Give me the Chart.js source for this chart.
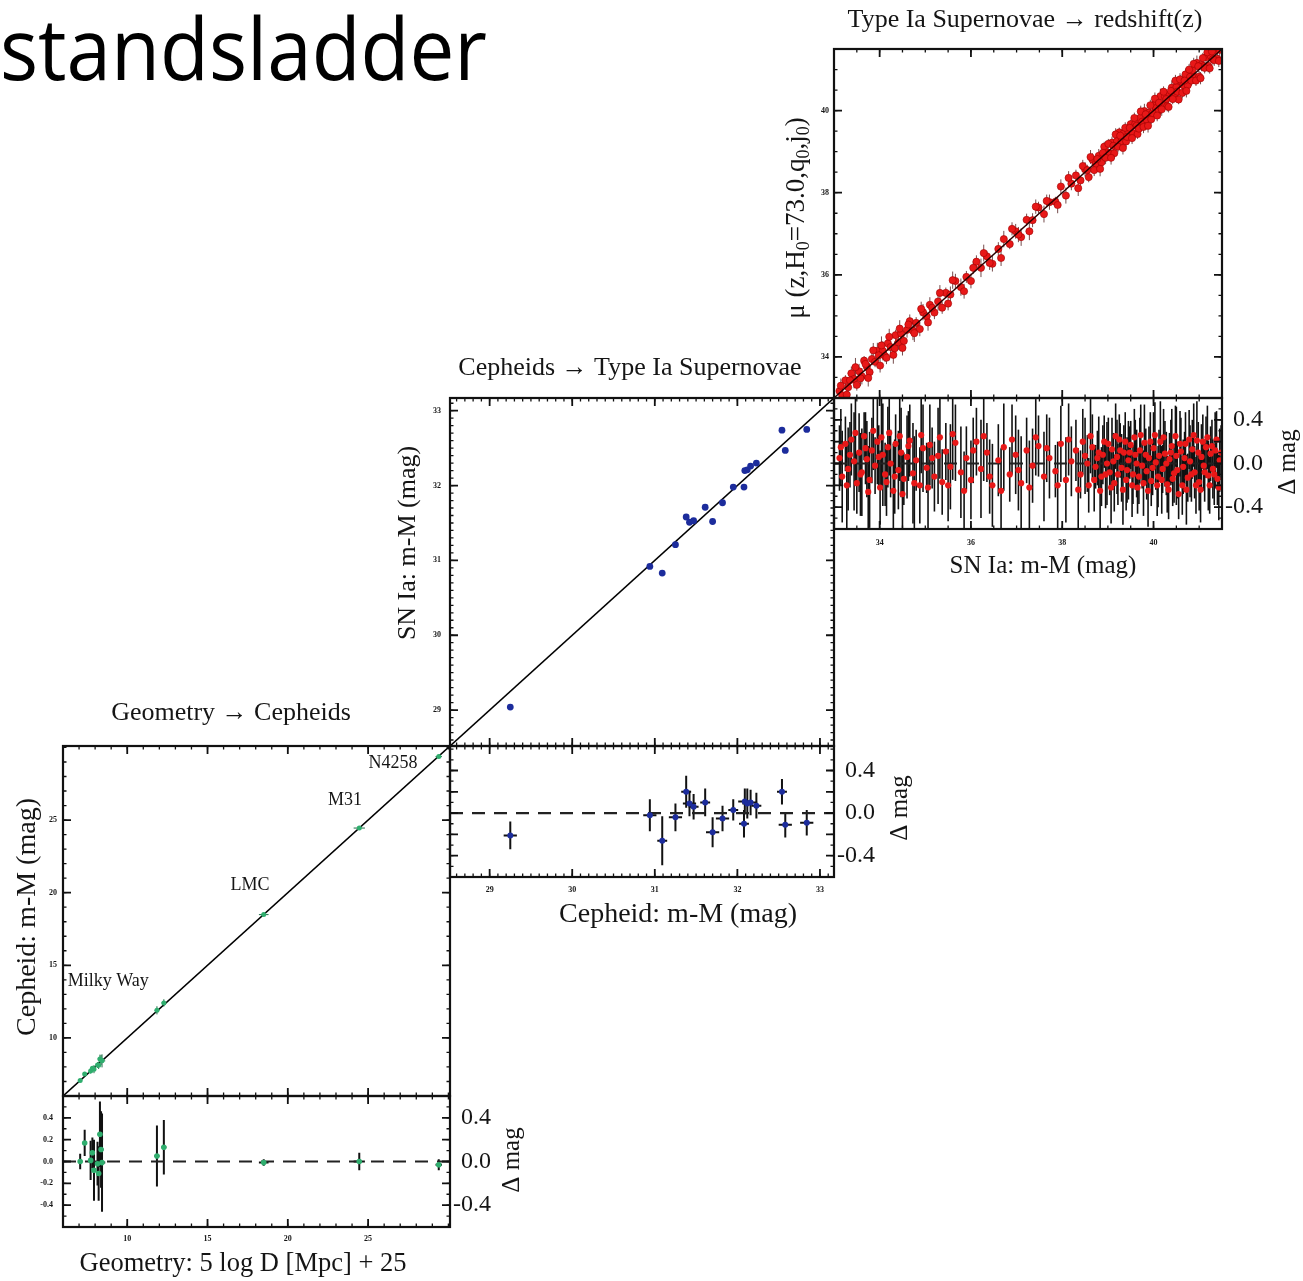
<!DOCTYPE html>
<html>
<head>
<meta charset="utf-8">
<script src="https://cdn.jsdelivr.net/npm/chart.js@4.4.1/dist/chart.umd.min.js"></script>
<style>
  body { margin: 0; background: #fff; width: 1303px; height: 1281px; overflow: hidden; position: relative; }
  canvas { position: absolute; left: 0; top: 0; }
</style>
</head>
<body>
<canvas id="c1m" width="1303" height="1281"></canvas>
<canvas id="c1r" width="1303" height="1281"></canvas>
<canvas id="c2m" width="1303" height="1281"></canvas>
<canvas id="c2r" width="1303" height="1281"></canvas>
<canvas id="c3m" width="1303" height="1281"></canvas>
<canvas id="c3r" width="1303" height="1281"></canvas>
<script>
// ---- Geometry -> Cepheids (green)
const geoDist      = [7.07, 7.35, 7.72, 7.83, 7.93, 8.15, 8.22, 8.30, 8.37, 8.43, 11.85, 12.28, 18.50, 24.45, 29.40];
const geoDistErr   = [0.05, 0.08, 0.10, 0.08, 0.12, 0.10, 0.12, 0.14, 0.15, 0.20, 0.15, 0.15, 0.30, 0.35, 0.20];
const cephMod      = [7.07, 7.52, 7.73, 7.91, 7.85, 8.13, 8.11, 8.55, 8.48, 8.42, 11.90, 12.41, 18.49, 24.45, 29.37];
const cephResid    = [0.00, 0.17, 0.01, 0.08, -0.08, -0.02, -0.11, 0.25, 0.11, -0.01, 0.05, 0.13, -0.01, 0.00, -0.03];
const cephResidErr = [0.07, 0.12, 0.18, 0.14, 0.28, 0.20, 0.25, 0.30, 0.35, 0.45, 0.28, 0.25, 0.03, 0.08, 0.05];
const geoTicks = [10, 15, 20, 25];
const geoTickLabels = ['10', '15', '20', '25'];
const geoLabels = ['Milky Way', 'LMC', 'M31', 'N4258'];

// ---- Cepheids -> Type Ia Supernovae (blue)
const hostCeph      = [29.25, 30.94, 31.09, 31.25, 31.38, 31.42, 31.47, 31.61, 31.70, 31.82, 31.95, 32.08, 32.09, 32.12, 32.16, 32.23, 32.54, 32.58, 32.84];
const hostCephErr   = [0.08, 0.08, 0.06, 0.08, 0.06, 0.08, 0.06, 0.06, 0.08, 0.08, 0.06, 0.06, 0.08, 0.06, 0.08, 0.06, 0.06, 0.08, 0.08];
const hostSN        = [29.04, 30.92, 30.83, 31.21, 31.58, 31.51, 31.53, 31.71, 31.52, 31.77, 31.98, 31.98, 32.20, 32.21, 32.26, 32.30, 32.74, 32.47, 32.75];
const hostResid     = [-0.21, -0.02, -0.26, -0.04, 0.20, 0.09, 0.06, 0.10, -0.18, -0.05, 0.03, -0.10, 0.11, 0.09, 0.10, 0.07, 0.20, -0.11, -0.09];
const hostResidErr  = [0.13, 0.15, 0.23, 0.13, 0.15, 0.12, 0.12, 0.13, 0.14, 0.12, 0.10, 0.13, 0.12, 0.14, 0.12, 0.12, 0.12, 0.12, 0.12];
const hostTicks = [29, 30, 31, 32, 33];
const hostTickLabels = ['29', '30', '31', '32', '33'];

// ---- Type Ia Supernovae -> redshift (red)
const snMod = [
  33.12, 33.18, 33.25, 33.31, 33.38, 33.44, 33.50, 33.55, 33.61, 33.66, 33.72, 33.78, 33.83, 33.90, 33.95,
  34.01, 34.07, 34.12, 34.18, 34.24, 34.30, 34.35, 34.41, 34.47, 34.53, 34.60, 34.66, 34.73, 34.80, 34.88,
  34.95, 35.03, 35.10, 35.20, 35.28, 35.37, 35.45, 35.55, 35.66, 35.78, 35.90, 36.00, 36.12, 36.22, 36.35,
  36.47, 36.60, 36.72, 36.85, 36.98, 37.10, 37.22, 37.35, 37.48, 37.60, 37.72, 37.85, 37.97, 38.08, 38.20,
  38.30, 38.40, 38.50, 38.58, 38.66, 38.73, 38.80, 38.86, 38.92, 38.98, 39.04, 39.09, 39.14, 39.20, 39.25,
  39.30, 39.35, 39.40, 39.45, 39.50, 39.55, 39.60, 39.65, 39.70, 39.75, 39.80, 39.85, 39.90, 39.95, 40.00,
  40.05, 40.10, 40.15, 40.20, 40.25, 40.30, 40.35, 40.40, 40.45, 40.50, 40.55, 40.60, 40.65, 40.70, 40.75,
  40.80, 40.85, 40.90, 40.95, 41.00, 41.05, 41.10, 41.15, 41.20, 41.25, 41.30, 41.35, 41.40, 41.45,
  33.15, 33.28, 33.35, 33.47, 33.58, 33.69, 33.75, 33.86, 33.98, 34.04,
  34.15, 34.21, 34.33, 34.44, 34.50, 34.63, 34.76, 34.91, 35.06, 35.15,
  35.32, 35.50, 35.60, 35.85, 36.05, 36.28, 36.41, 36.66, 36.90, 37.04,
  37.28, 37.42, 37.66, 37.90, 38.14, 38.35, 38.45, 38.55, 38.62, 38.70,
  38.77, 38.83, 38.89, 38.95, 39.01, 39.07, 39.12, 39.17, 39.22, 39.27,
  39.33, 39.38, 39.42, 39.48, 39.53, 39.58, 39.63, 39.68, 39.72, 39.78,
  39.83, 39.88, 39.93, 39.98, 40.03, 40.08, 40.12, 40.18, 40.22, 40.28,
  40.33, 40.38, 40.42, 40.48, 40.52, 40.58, 40.63, 40.68, 40.72, 40.78,
  40.83, 40.88, 40.93, 40.98, 41.03, 41.08, 41.12, 41.18, 41.23, 41.28,
  41.33, 41.38, 41.43, 41.48
];
const hubbleMu = [
  33.17, 33.06, 33.43, 33.26, 33.60, 33.46, 33.32, 33.65, 33.53, 33.91, 33.76, 33.63, 33.95, 33.88, 34.15,
  33.79, 34.15, 34.02, 34.33, 34.24, 34.05, 34.53, 34.35, 34.57, 34.39, 34.66, 34.87, 34.64, 34.83, 34.68,
  35.09, 34.99, 35.27, 35.08, 35.35, 35.20, 35.56, 35.52, 35.85, 35.70, 35.95, 35.85, 36.32, 36.17, 36.45,
  36.27, 36.63, 36.87, 36.75, 37.06, 36.92, 37.34, 37.33, 37.64, 37.48, 37.77, 37.78, 38.15, 37.93, 38.22,
  38.42, 38.30, 38.57, 38.38, 38.81, 38.70, 38.90, 38.74, 39.12, 38.98, 38.96, 39.22, 38.96, 39.26, 39.47,
  39.26, 39.45, 39.25, 39.48, 39.67, 39.45, 39.68, 39.43, 39.82, 39.73, 39.99, 39.78, 39.95, 39.79, 40.14,
  40.06, 39.98, 40.35, 40.15, 40.34, 40.11, 40.39, 40.56, 40.36, 40.57, 40.27, 40.71, 40.62, 40.88, 40.62,
  40.82, 40.98, 40.82, 41.16, 40.83, 41.11, 41.08, 41.30, 41.09, 41.34, 41.25, 41.47, 41.26, 41.48,
  33.30, 33.08, 33.43, 33.75, 33.48, 33.83, 33.49, 34.16, 34.04, 34.28,
  33.98, 34.49, 34.21, 34.69, 34.22, 34.79, 34.58, 35.17, 34.84, 35.20,
  35.56, 35.30, 35.87, 35.60, 36.17, 36.53, 36.29, 36.41, 37.12, 36.98,
  37.06, 37.66, 37.80, 37.70, 38.36, 38.11, 38.65, 38.55, 38.87, 38.55,
  38.82, 38.58, 38.97, 38.85, 39.19, 38.85, 39.14, 39.42, 39.12, 39.39,
  39.09, 39.58, 39.36, 39.58, 39.33, 39.82, 39.63, 39.56, 39.98, 39.60,
  39.91, 39.63, 40.13, 39.94, 40.29, 39.88, 40.19, 40.03, 40.46, 40.28,
  40.09, 40.48, 40.28, 40.73, 40.46, 40.76, 40.43, 40.73, 40.48, 41.00,
  40.73, 41.14, 40.73, 41.08, 40.79, 41.28, 41.04, 41.42, 41.03, 41.44,
  41.23, 41.60, 41.21, 41.58
];
const hubbleResid = [
  0.05, -0.12, 0.18, -0.05, 0.22, 0.02, -0.18, 0.10, -0.08, 0.25, 0.04, -0.15, 0.12, -0.02, 0.20,
  -0.22, 0.08, -0.10, 0.15, 0.00, -0.25, 0.18, -0.06, 0.10, -0.14, 0.06, 0.21, -0.09, 0.03, -0.20,
  0.14, -0.04, 0.17, -0.12, 0.07, -0.17, 0.11, -0.03, 0.19, -0.08, 0.05, -0.15, 0.20, -0.05, 0.10,
  -0.20, 0.03, 0.15, -0.10, 0.08, -0.18, 0.12, -0.02, 0.16, -0.12, 0.05, -0.07, 0.18, -0.15, 0.02,
  0.12, -0.10, 0.07, -0.20, 0.15, -0.03, 0.10, -0.12, 0.20, 0.00, -0.08, 0.13, -0.18, 0.06, 0.22,
  -0.04, 0.10, -0.15, 0.03, 0.17, -0.10, 0.08, -0.22, 0.12, -0.02, 0.19, -0.07, 0.05, -0.16, 0.14,
  0.01, -0.12, 0.20, -0.05, 0.09, -0.19, 0.04, 0.16, -0.09, 0.07, -0.28, 0.11, -0.03, 0.18, -0.13,
  0.02, 0.13, -0.08, 0.21, -0.17, 0.06, -0.02, 0.15, -0.11, 0.09, -0.05, 0.12, -0.14, 0.03,
  0.15, -0.20, 0.08, 0.28, -0.10, 0.14, -0.26, 0.30, 0.06, 0.24,
  -0.17, 0.28, -0.12, 0.25, -0.28, 0.16, -0.18, 0.26, -0.22, 0.05,
  0.24, -0.20, 0.27, -0.25, 0.12, 0.25, -0.12, -0.25, 0.22, -0.06,
  -0.22, 0.24, 0.14, -0.20, 0.22, -0.24, 0.20, 0.00, 0.25, -0.15,
  0.05, -0.25, 0.08, -0.10, 0.18, -0.22, 0.02, 0.25, -0.10, 0.12,
  -0.24, 0.20, -0.06, 0.10, -0.20, 0.24, 0.00, -0.12, 0.26, -0.18,
  0.08, -0.25, 0.20, -0.04, 0.26, -0.20, 0.07, -0.15, 0.24, 0.00,
  -0.24, 0.10, -0.14, 0.25, -0.06, 0.18, -0.20, 0.05, -0.24, 0.22,
  -0.10, 0.26, -0.20, 0.10, -0.24, 0.20, -0.08, 0.24, -0.20, 0.16,
  -0.10, 0.22, -0.22, 0.10
];
const hubbleErr = [
  0.30, 0.42, 0.25, 0.38, 0.33, 0.45, 0.28, 0.36, 0.40, 0.22, 0.35, 0.44, 0.30, 0.26, 0.39,
  0.34, 0.47, 0.29, 0.37, 0.31, 0.43, 0.27, 0.36, 0.41, 0.24, 0.38, 0.33, 0.46, 0.28, 0.35,
  0.40, 0.23, 0.37, 0.32, 0.44, 0.30, 0.26, 0.39, 0.35, 0.42, 0.29, 0.36, 0.31, 0.45, 0.27,
  0.38, 0.33, 0.40, 0.25, 0.36, 0.43, 0.30, 0.34, 0.28, 0.41, 0.37, 0.24, 0.35, 0.39, 0.32,
  0.28, 0.22, 0.35, 0.25, 0.30, 0.20, 0.33, 0.27, 0.24, 0.38, 0.21, 0.29, 0.26, 0.34, 0.23,
  0.31, 0.25, 0.28, 0.36, 0.22, 0.27, 0.32, 0.24, 0.30, 0.21, 0.35, 0.26, 0.29, 0.23, 0.33,
  0.25, 0.28, 0.37, 0.22, 0.30, 0.26, 0.24, 0.34, 0.27, 0.45, 0.23, 0.31, 0.25, 0.29, 0.22,
  0.33, 0.27, 0.24, 0.36, 0.26, 0.30, 0.23, 0.28, 0.32, 0.25, 0.27, 0.35, 0.24, 0.29,
  0.35, 0.40, 0.30, 0.45, 0.38, 0.33, 0.42, 0.36, 0.29, 0.44,
  0.31, 0.39, 0.34, 0.41, 0.37, 0.32, 0.43, 0.35, 0.40, 0.28,
  0.38, 0.33, 0.42, 0.36, 0.30, 0.41, 0.34, 0.39, 0.32, 0.37,
  0.43, 0.35, 0.31, 0.40, 0.33, 0.38, 0.30, 0.26, 0.34, 0.29,
  0.25, 0.36, 0.27, 0.31, 0.24, 0.33, 0.26, 0.30, 0.28, 0.25,
  0.32, 0.27, 0.30, 0.24, 0.29, 0.26, 0.31, 0.25, 0.28, 0.30,
  0.24, 0.33, 0.27, 0.25, 0.30, 0.28, 0.24, 0.31, 0.26, 0.29,
  0.27, 0.30, 0.25, 0.28, 0.26, 0.30, 0.27, 0.24, 0.32, 0.27,
  0.25, 0.29, 0.26, 0.28, 0.30, 0.25, 0.27, 0.29, 0.26, 0.24,
  0.28, 0.26, 0.30, 0.25
];
const hubbleTicks = [34, 36, 38, 40];
const hubbleTickLabels = ['34', '36', '38', '40'];

// residual axes
const residTicks = [-0.4, -0.2, 0, 0.2, 0.4];
const residTickLabels = ['-0.4', '-0.2', '0.0', '0.2', '0.4'];
const residSideTicks = [-0.4, 0, 0.4];
const residSideLabels = ['-0.4', '0.0', '0.4'];

const SERIF = '"Liberation Serif", "DejaVu Serif", serif';
const GREEN = '#2fae6e', BLUE = '#1c2c9c', RED = '#e81818';
const tinyFont = 'bold 8px ' + SERIF;
const sideFont = '24px ' + SERIF;
const deltaFont = '25px ' + SERIF;
const titleFont = '26px ' + SERIF;

const pts = (xs, ys) => xs.map((x, i) => ({ x: x, y: ys[i] }));

function scatterSet(data, color, r, border) {
  return { data: data, backgroundColor: color, borderColor: border || color, borderWidth: border ? 0.6 : 0, pointRadius: r };
}
function lineSet(data, color, width, dash) {
  return { type: 'line', data: data, borderColor: color, borderWidth: width, borderDash: dash || [], pointRadius: 0, fill: false };
}

const panels = {
  c1m: {
    box: [63, 746, 450, 1096], xr: [6, 30.1], yr: [6, 30.1],
    xMajor: geoTicks, xMinor: 1, yMajor: geoTicks, yMinor: 1,
    left: { v: geoTicks, t: geoTickLabels, font: tinyFont, off: 6 },
    errs: [{ x: geoDist, y: cephMod, yErr: cephResidErr, xErr: geoDistErr, color: '#1f6f48', w: 1 }],
    datasets: [
      scatterSet(pts(geoDist, cephMod), GREEN, 2.5),
      lineSet([{ x: 6, y: 6 }, { x: 30.1, y: 30.1 }], '#000', 1.6)
    ],
    labels: [
      { t: geoLabels[0], x: 6.3, y: 13.9, align: 'left' },
      { t: geoLabels[1], x: 17.64, y: 20.53 },
      { t: geoLabels[2], x: 23.56, y: 26.38 },
      { t: geoLabels[3], x: 26.55, y: 28.93 }
    ],
    texts: [
      { t: 'Geometry \u2192 Cepheids', x: 231, y: 713, font: titleFont },
      { t: 'Cepheid: m-M (mag)', x: 28, y: 917, font: '28px ' + SERIF, rot: -Math.PI / 2 }
    ]
  },
  c1r: {
    box: [63, 1096, 450, 1227], xr: [6, 30.1], yr: [-0.6, 0.6],
    xMajor: geoTicks, xMinor: 1, yMajor: residTicks, yMinor: 0.1,
    bottom: { v: geoTicks, t: geoTickLabels, font: tinyFont, off: 12 },
    left: { v: residTicks, t: residTickLabels, font: tinyFont, off: 10 },
    right: { v: residSideTicks, t: residSideLabels, font: sideFont, off: 41 },
    errs: [{ x: geoDist, y: cephResid, yErr: cephResidErr, xErr: geoDistErr, color: '#111', w: 2 }],
    datasets: [
      scatterSet(pts(geoDist, cephResid), GREEN, 2.8),
      lineSet([{ x: 6, y: 0 }, { x: 30.1, y: 0 }], '#222', 2.2, [13, 9])
    ],
    texts: [
      { t: 'Geometry: 5 log D [Mpc] + 25', x: 243, y: 1264, font: '26.5px ' + SERIF },
      { t: '\u0394 mag', x: 512, y: 1160, font: deltaFont, rot: -Math.PI / 2 }
    ]
  },
  c2m: {
    box: [450, 398, 834, 746], xr: [28.52, 33.17], yr: [28.52, 33.17],
    xMajor: hostTicks, xMinor: 0.1, yMajor: hostTicks, yMinor: 0.1,
    left: { v: hostTicks, t: hostTickLabels, font: tinyFont, off: 9 },
    errs: [],
    datasets: [
      scatterSet(pts(hostCeph, hostSN), BLUE, 3.4),
      lineSet([{ x: 28.52, y: 28.52 }, { x: 33.17, y: 33.17 }], '#000', 1.6)
    ],
    texts: [
      { t: 'Cepheids \u2192 Type Ia Supernovae', x: 630, y: 368, font: titleFont },
      { t: 'SN Ia: m-M (mag)', x: 408, y: 543, font: '26px ' + SERIF, rot: -Math.PI / 2 }
    ]
  },
  c2r: {
    box: [450, 746, 834, 877], xr: [28.52, 33.17], yr: [-0.6, 0.63],
    xMajor: hostTicks, xMinor: 0.1, yMajor: residTicks, yMinor: 0.1,
    bottom: { v: hostTicks, t: hostTickLabels, font: tinyFont, off: 13 },
    right: { v: residSideTicks, t: residSideLabels, font: sideFont, off: 41 },
    errs: [{ x: hostCeph, y: hostResid, yErr: hostResidErr, xErr: hostCephErr, color: '#111', w: 2 }],
    datasets: [
      scatterSet(pts(hostCeph, hostResid), BLUE, 3),
      lineSet([{ x: 28.52, y: 0 }, { x: 33.17, y: 0 }], '#222', 2.2, [13, 9])
    ],
    texts: [
      { t: 'Cepheid: m-M (mag)', x: 678, y: 915, font: '28px ' + SERIF },
      { t: '\u0394 mag', x: 900, y: 808, font: deltaFont, rot: -Math.PI / 2 }
    ]
  },
  c3m: {
    box: [834, 49, 1222, 398], xr: [33.0, 41.5], yr: [33.0, 41.5],
    xMajor: hubbleTicks, xMinor: 0.5, yMajor: hubbleTicks, yMinor: 0.5,
    left: { v: hubbleTicks, t: hubbleTickLabels, font: tinyFont, off: 5 },
    errs: [{ x: snMod, y: hubbleMu, yErr: hubbleErr.map(e => e * 0.5), color: 'rgba(60,0,0,0.7)', w: 1 }],
    datasets: [
      lineSet([{ x: 33.0, y: 33.0 }, { x: 41.5, y: 41.5 }], '#2a0000', 1.4),
      scatterSet(pts(snMod, hubbleMu), RED, 3.6, '#a00000')
    ],
    texts: [
      { t: 'Type Ia Supernovae \u2192 redshift(z)', x: 1025, y: 20, font: titleFont },
      { parts: [{ t: '\u03bc (z,H' }, { t: '0', sub: true }, { t: '=73.0,q' }, { t: '0', sub: true }, { t: ',j' }, { t: '0', sub: true }, { t: ')' }],
        x: 797, y: 218, font: '27px ' + SERIF, subFont: '18px ' + SERIF, subDy: 7, rot: -Math.PI / 2 },
      { t: 'standsladder', x: 0, y: 80, font: '86px "Open Sans", "Noto Sans", sans-serif', align: 'left', baseline: 'alphabetic', fit: 487, color: '#000' }
    ]
  },
  c3r: {
    box: [834, 398, 1222, 529], xr: [33.0, 41.5], yr: [-0.6, 0.6],
    xMajor: hubbleTicks, xMinor: 0.5, yMajor: residTicks, yMinor: 0.1,
    bottom: { v: hubbleTicks, t: hubbleTickLabels, font: tinyFont, off: 14 },
    right: { v: residSideTicks, t: residSideLabels, font: sideFont, off: 41 },
    errs: [{ x: snMod, y: hubbleResid, yErr: hubbleErr, color: '#111', w: 1.6 }],
    datasets: [
      scatterSet(pts(snMod, hubbleResid), RED, 3.1),
      lineSet([{ x: 33.0, y: 0 }, { x: 41.5, y: 0 }], '#222', 2, [13, 9])
    ],
    texts: [
      { t: 'SN Ia: m-M (mag)', x: 1043, y: 566, font: '25px ' + SERIF },
      { t: '\u0394 mag', x: 1288, y: 462, font: deltaFont, rot: -Math.PI / 2 }
    ]
  }
};

function drawText(ctx, it) {
  ctx.save();
  ctx.translate(it.x, it.y);
  if (it.rot) ctx.rotate(it.rot);
  ctx.fillStyle = it.color || '#151515';
  ctx.textBaseline = it.baseline || 'middle';
  ctx.textAlign = 'left';
  const parts = it.parts || [{ t: it.t }];
  const widths = [];
  let total = 0;
  parts.forEach(p => {
    ctx.font = p.sub ? it.subFont : it.font;
    const w = ctx.measureText(p.t).width;
    widths.push(w);
    total += w;
  });
  if (it.fit) { ctx.scale(it.fit / total, 1); }
  let x = it.align === 'left' ? 0 : -total / 2;
  parts.forEach((p, i) => {
    ctx.font = p.sub ? it.subFont : it.font;
    ctx.fillText(p.t, x, p.sub ? it.subDy : 0);
    x += widths[i];
  });
  ctx.restore();
}

function stepValues(min, max, step) {
  const out = [];
  for (let n = Math.ceil(min / step - 1e-9); n * step <= max + 1e-9; n++) out.push(n * step);
  return out;
}

const framePlugin = {
  id: 'frame',
  beforeDatasetsDraw(chart) {
    const p = panels[chart.canvas.id];
    const ctx = chart.ctx, xs = chart.scales.x, ys = chart.scales.y, a = chart.chartArea;
    ctx.save();
    ctx.beginPath();
    ctx.rect(a.left, a.top, a.right - a.left, a.bottom - a.top);
    ctx.clip();
    p.errs.forEach(eb => {
      ctx.strokeStyle = eb.color;
      ctx.lineWidth = eb.w;
      eb.x.forEach((xv, i) => {
        const yv = eb.y[i];
        const px = xs.getPixelForValue(xv), py = ys.getPixelForValue(yv);
        ctx.beginPath();
        if (eb.yErr) {
          ctx.moveTo(px, ys.getPixelForValue(yv - eb.yErr[i]));
          ctx.lineTo(px, ys.getPixelForValue(yv + eb.yErr[i]));
        }
        if (eb.xErr) {
          ctx.moveTo(xs.getPixelForValue(xv - eb.xErr[i]), py);
          ctx.lineTo(xs.getPixelForValue(xv + eb.xErr[i]), py);
        }
        ctx.stroke();
      });
    });
    ctx.restore();
  },
  afterDraw(chart) {
    const p = panels[chart.canvas.id];
    const ctx = chart.ctx, xs = chart.scales.x, ys = chart.scales.y, a = chart.chartArea;
    ctx.save();
    ctx.strokeStyle = '#111';
    // ticks pointing inward on all four sides
    ctx.lineWidth = 1.3;
    ctx.beginPath();
    const tick = (vals, len, horiz) => {
      vals.forEach(v => {
        if (horiz) {
          const px = xs.getPixelForValue(v);
          ctx.moveTo(px, a.bottom); ctx.lineTo(px, a.bottom - len);
          ctx.moveTo(px, a.top); ctx.lineTo(px, a.top + len);
        } else {
          const py = ys.getPixelForValue(v);
          ctx.moveTo(a.left, py); ctx.lineTo(a.left + len, py);
          ctx.moveTo(a.right, py); ctx.lineTo(a.right - len, py);
        }
      });
    };
    tick(stepValues(p.xr[0], p.xr[1], p.xMinor), 3.5, true);
    tick(stepValues(p.yr[0], p.yr[1], p.yMinor), 3.5, false);
    ctx.stroke();
    ctx.lineWidth = 1.8;
    ctx.beginPath();
    tick(p.xMajor, 8, true);
    tick(p.yMajor, 8, false);
    ctx.stroke();
    // frame
    ctx.lineWidth = 2.2;
    ctx.strokeRect(a.left, a.top, a.right - a.left, a.bottom - a.top);
    // tick labels
    ctx.fillStyle = '#151515';
    ctx.textBaseline = 'middle';
    if (p.left) {
      ctx.font = p.left.font; ctx.textAlign = 'right';
      p.left.v.forEach((v, i) => ctx.fillText(p.left.t[i], a.left - p.left.off, ys.getPixelForValue(v)));
    }
    if (p.right) {
      ctx.font = p.right.font; ctx.textAlign = 'right';
      p.right.v.forEach((v, i) => ctx.fillText(p.right.t[i], a.right + p.right.off, ys.getPixelForValue(v)));
    }
    if (p.bottom) {
      ctx.font = p.bottom.font; ctx.textAlign = 'center';
      p.bottom.v.forEach((v, i) => ctx.fillText(p.bottom.t[i], xs.getPixelForValue(v), a.bottom + p.bottom.off));
    }
    ctx.restore();
    // annotations placed in data coordinates
    (p.labels || []).forEach(l => drawText(ctx, {
      t: l.t, x: xs.getPixelForValue(l.x), y: ys.getPixelForValue(l.y),
      font: '18px ' + SERIF, align: l.align
    }));
    p.texts.forEach(t => drawText(ctx, t));
  }
};

Chart.register(framePlugin);

const W = 1303, H = 1281;
Object.keys(panels).forEach(id => {
  const p = panels[id];
  const [x0, y0, x1, y1] = p.box;
  new Chart(document.getElementById(id).getContext('2d'), {
    type: 'scatter',
    data: { datasets: p.datasets },
    options: {
      responsive: false,
      animation: false,
      devicePixelRatio: 1,
      events: [],
      layout: { padding: { left: x0, top: y0, right: W - x1, bottom: H - y1 } },
      plugins: { legend: { display: false }, tooltip: { enabled: false } },
      scales: {
        x: { type: 'linear', min: p.xr[0], max: p.xr[1], display: false },
        y: { type: 'linear', min: p.yr[0], max: p.yr[1], display: false }
      }
    }
  });
});
</script>
</body>
</html>
